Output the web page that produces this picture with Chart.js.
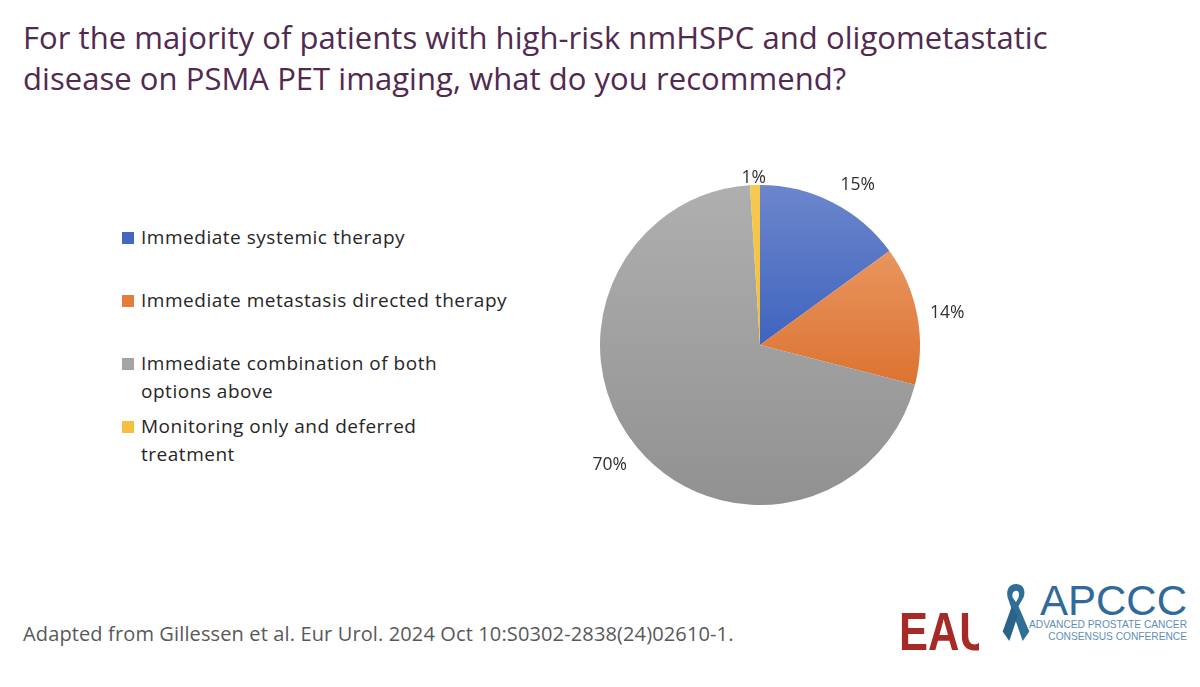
<!DOCTYPE html>
<html>
<head>
<meta charset="utf-8">
<title>PSMA PET oligometastatic disease</title>
<script src="https://cdn.jsdelivr.net/npm/chart.js@4"></script>
<style>
  html, body { margin: 0; padding: 0; background: #fff; }
  body { width: 1200px; height: 687px; position: relative; overflow: hidden; font-family: "Open Sans", sans-serif; }
  #title { position: absolute; left: 23px; top: 17px; font-size: 31px; line-height: 41px; letter-spacing: 0.05px; color: #52294f; white-space: nowrap; }
  #chartBox { position: absolute; left: 540px; top: 125px; width: 440px; height: 440px; }
  .legend-item { position: absolute; left: 141px; font-size: 19px; line-height: 28px; color: #262626; letter-spacing: 0.52px; white-space: nowrap; }
  .legend-swatch { position: absolute; left: 122px; width: 12px; height: 12px; }
  #source { position: absolute; left: 23px; top: 620px; font-size: 20px; letter-spacing: 0.13px; color: #595959; white-space: nowrap; }
  #eau { position: absolute; left: 899px; top: 602px; width: 80px; height: 56px; overflow: hidden; }
  #eau span { display: block; transform: scaleX(0.82); transform-origin: left top; font-family: "Liberation Sans", sans-serif; font-weight: bold; font-size: 53px; line-height: 60px; color: #a62a26; white-space: nowrap; }
  #apccc { position: absolute; left: 1040px; top: 576px; font-family: "Liberation Sans", sans-serif; font-size: 42px; line-height: 50px; color: #2f6a9b; white-space: nowrap; }
  .apccc-sub { position: absolute; width: 200px; text-align: right; left: 987px; font-family: "Liberation Sans", sans-serif; font-size: 10.2px; line-height: 12px; color: #5f8fb5; white-space: nowrap; }
  #ribbon { position: absolute; left: 1001px; top: 583px; }
</style>
</head>
<body>
<div id="title">For the majority of patients with high-risk nmHSPC and oligometastatic<br>disease on PSMA PET imaging, what do you recommend?</div>
<div id="legend"></div>
<div id="chartBox"><canvas id="pieChart" width="440" height="440"></canvas></div>
<div id="source">Adapted from Gillessen et al. Eur Urol. 2024 Oct 10:S0302-2838(24)02610-1.</div>
<div id="eau"><span>EAU</span></div>
<svg id="ribbon" width="30" height="60" viewBox="0 0 36 62" preserveAspectRatio="none">
  <path d="M18 1 C9 1 6 8 8 15 L26 60 L34 50 L21 24 L27 15 C30 8 27 1 18 1 Z M18 8 C22 8 22 12 21 15 L18 20 L14 15 C13 12 14 8 18 8 Z" fill="#2f6f96" fill-rule="evenodd"/>
  <path d="M13 24 L2 50 L10 60 L20 34 Z" fill="#2b6288"/>
</svg>
<div id="apccc">APCCC</div>
<div class="apccc-sub" style="top:619px">ADVANCED PROSTATE CANCER</div>
<div class="apccc-sub" style="top:631px">CONSENSUS CONFERENCE</div>

<script>
const categories = [
  ['Immediate systemic therapy'],
  ['Immediate metastasis directed therapy'],
  ['Immediate combination of both', 'options above'],
  ['Monitoring only and deferred', 'treatment']
];
const shareValues = [15, 14, 70, 1];
const sliceTops = ['#6c86cc', '#e99660', '#afafaf', '#f7c94f'];
const sliceBottoms = ['#3f64be', '#dc7230', '#919191', '#f4bc38'];
const legendColors = ['#4468bf', '#e47c3c', '#a5a5a5', '#f5c040'];
const legendTops = [223, 286, 349, 412];

// gradient runs over each slice's own height (fractions of the pie height)
const gradientSpans = [[0, 0.5], [0.2, 0.63], [0, 1], [0, 0.5]];

// label placement around the pie
const labelRadius = [190, 189, 191, 170];
const labelNudgeX = [11.5, 1.5, -3, -1];
const labelNudgeY = [9, 3.5, -2, 2.5];

// Build the legend on the left
const legend = document.getElementById('legend');
categories.forEach((lines, i) => {
  const item = document.createElement('div');
  item.className = 'legend-item';
  item.style.top = legendTops[i] + 'px';
  item.innerHTML = lines.join('<br>');
  legend.appendChild(item);

  const swatch = document.createElement('div');
  swatch.className = 'legend-swatch';
  swatch.style.top = (legendTops[i] + 9) + 'px';
  swatch.style.background = legendColors[i];
  legend.appendChild(swatch);
});

// Percent labels sitting just outside each slice
const outsideLabels = {
  id: 'outsideLabels',
  afterDatasetsDraw(chart) {
    const ctx = chart.ctx;
    ctx.save();
    ctx.font = '17.5px "Open Sans"';
    ctx.fillStyle = '#303030';
    ctx.textAlign = 'center';
    ctx.textBaseline = 'middle';
    chart.getDatasetMeta(0).data.forEach((arc, i) => {
      const mid = (arc.startAngle + arc.endAngle) / 2;
      const x = arc.x + Math.cos(mid) * labelRadius[i] + labelNudgeX[i];
      const y = arc.y + Math.sin(mid) * labelRadius[i] + labelNudgeY[i];
      ctx.fillText(shareValues[i] + '%', x, y);
    });
    ctx.restore();
  }
};

function sliceFill(context) {
  const area = context.chart.chartArea;
  const i = context.dataIndex;
  if (!area) return legendColors[i];
  const h = area.bottom - area.top;
  const grad = context.chart.ctx.createLinearGradient(
    0, area.top + gradientSpans[i][0] * h,
    0, area.top + gradientSpans[i][1] * h
  );
  grad.addColorStop(0, sliceTops[i]);
  grad.addColorStop(1, sliceBottoms[i]);
  return grad;
}

new Chart(document.getElementById('pieChart'), {
  type: 'pie',
  data: {
    labels: categories.map(lines => lines.join(' ')),
    datasets: [{
      data: shareValues,
      backgroundColor: sliceFill,
      borderWidth: 0
    }]
  },
  options: {
    responsive: false,
    animation: false,
    layout: { padding: 60 },
    plugins: {
      legend: { display: false },
      title: { display: false },
      tooltip: { enabled: false }
    }
  },
  plugins: [outsideLabels]
});
</script>
</body>
</html>
